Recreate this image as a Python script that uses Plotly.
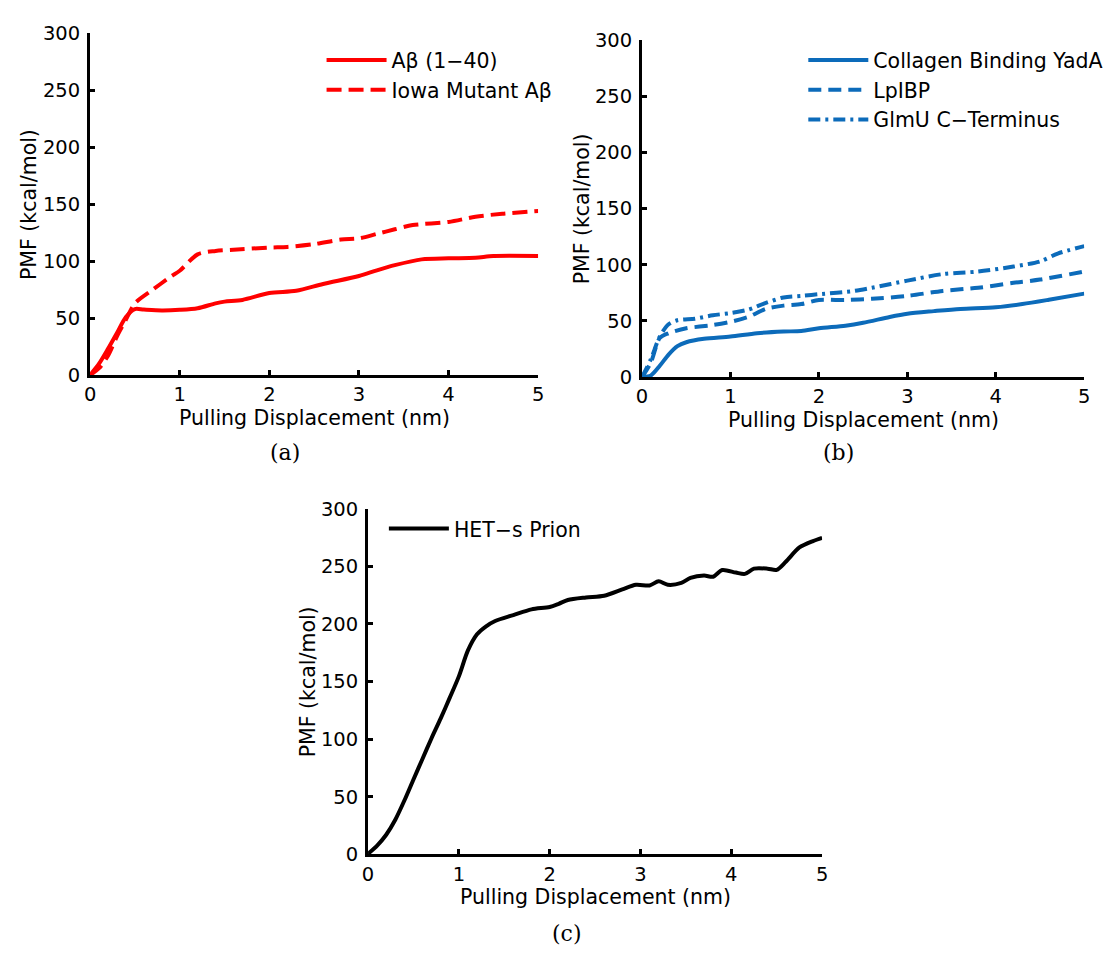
import plotly.graph_objects as go

# ---- Panel (a): amyloid-beta peptides ----
x_ab40 = [0, 0.1, 0.2, 0.3, 0.4, 0.5, 0.6, 0.8, 1.0, 1.2, 1.4, 1.5, 1.7, 2.0, 2.3, 2.6, 3.0, 3.2, 3.4, 3.7, 4.0, 4.3, 4.5, 5.0]
y_ab40 = [0, 10, 23, 37, 51, 58, 57.5, 56.8, 57.3, 58.7, 63, 64.5, 66, 72, 74, 80, 87, 92, 96.5, 101.6, 102.5, 103, 104.5, 104.5]

x_iowa = [0, 0.1, 0.2, 0.3, 0.4, 0.5, 0.7, 0.9, 1.0, 1.2, 1.4, 1.6, 2.0, 2.2, 2.5, 2.8, 3.0, 3.2, 3.4, 3.6, 4.0, 4.3, 4.6, 5.0]
y_iowa = [0, 6, 17, 34, 48.7, 63, 75, 86.5, 91.6, 106, 109, 110, 112, 112.5, 115, 119, 120, 124, 128, 131.7, 134.5, 139, 141.7, 144]

# ---- Panel (b): bacterial proteins ----
x_yada = [0, 0.1, 0.2, 0.3, 0.4, 0.5, 0.7, 1.0, 1.3, 1.6, 1.8, 2.0, 2.3, 2.5, 2.8, 3.0, 3.3, 3.6, 4.0, 4.3, 4.6, 5.0]
y_yada = [0, 1.4, 10, 20, 27.5, 31, 34, 36, 39, 40.5, 41, 43.4, 45.7, 48.3, 53.5, 56.4, 58.7, 60.7, 62.2, 65, 68.8, 74.3]

x_lpibp = [0, 0.1, 0.2, 0.3, 0.5, 0.8, 1.0, 1.2, 1.4, 1.6, 1.8, 2.0, 2.3, 2.6, 3.0, 3.4, 3.8, 4.2, 4.5, 5.0]
y_lpibp = [0, 13, 34.7, 39, 43.4, 46.3, 49.2, 53.5, 60.7, 63.6, 65, 68.6, 68.6, 69.7, 72.3, 76.7, 79.5, 83.9, 86.8, 94]

x_glmu = [0, 0.1, 0.2, 0.3, 0.4, 0.6, 0.8, 1.0, 1.2, 1.4, 1.6, 1.8, 2.0, 2.4, 2.6, 3.0, 3.4, 3.8, 4.2, 4.5, 4.7, 5.0]
y_glmu = [0, 16, 36, 47, 50.6, 52, 55, 57, 60, 66, 70.9, 72.3, 73.8, 76.7, 79.5, 85.9, 91.7, 94, 98.4, 103, 110, 116.6]

# ---- Panel (c): HET-s prion ----
x_hets = [0, 0.1, 0.2, 0.3, 0.4, 0.5, 0.6, 0.7, 0.8, 0.9, 1.0, 1.1, 1.2, 1.3, 1.4, 1.6, 1.8, 2.0, 2.1, 2.2, 2.4, 2.6, 2.8, 2.95,
          3.1, 3.2, 3.3, 3.45, 3.55, 3.7, 3.8, 3.9, 4.05, 4.15, 4.25, 4.4, 4.5, 4.6, 4.75, 4.9, 5.0]
y_hets = [0.5, 7.6, 17, 30, 46.7, 65, 83, 101, 118, 136, 154.5, 177, 191, 198, 202.6, 207.7, 212.7, 214.7, 217.5, 220.8, 223, 224.5, 230, 234,
          233.4, 237, 234, 235.6, 240, 242, 241, 246.8, 244.6, 243.5, 248, 248, 247, 254, 266.4, 272, 274.8]

x_ticks = [0, 1, 2, 3, 4, 5]
y_ticks = [0, 50, 100, 150, 200, 250, 300]
x_title = "Pulling Displacement (nm)"
y_title = "PMF (kcal/mol)"

RED = "#ff0000"
BLUE = "#0c6bba"
LW = 4
FONT = "DejaVu Sans, sans-serif"
SERIF = "DejaVu Serif, serif"

W, H = 1113, 960


def px_x(p):
    return p / W


def px_y(p):
    return 1 - p / H


fig = go.Figure()


def add(x, y, name, color, dash, xa, ya, legend):
    fig.add_trace(go.Scatter(
        x=x, y=y, name=name, mode="lines",
        line=dict(color=color, width=LW, dash=dash, shape="spline", smoothing=0.8),
        xaxis=xa, yaxis=ya, legend=legend, showlegend=True,
    ))


add(x_ab40, y_ab40, "Aβ (1−40)", RED, "solid", "x", "y", "legend")
add(x_iowa, y_iowa, "Iowa Mutant Aβ", RED, "15px,7px", "x", "y", "legend")
add(x_yada, y_yada, "Collagen Binding YadA", BLUE, "solid", "x2", "y2", "legend2")
add(x_lpibp, y_lpibp, "LpIBP", BLUE, "13px,7px", "x2", "y2", "legend2")
add(x_glmu, y_glmu, "GlmU C−Terminus", BLUE, "12px,5px,3px,5px", "x2", "y2", "legend2")
add(x_hets, y_hets, "HET−s Prion", "black", "solid", "x3", "y3", "legend3")


def axis_common(anchor, domain, is_x):
    d = dict(
        domain=domain, anchor=anchor, showgrid=False, zeroline=False,
        showline=True, linecolor="black", linewidth=3, mirror=False,
        ticks="inside", ticklen=5, tickwidth=3, tickcolor="black",
        tickfont=dict(family=FONT, size=19.5, color="black"),
        fixedrange=True,
    )
    if is_x:
        d.update(range=[0, 5], tickvals=x_ticks, ticklabelstandoff=0)
    else:
        d.update(range=[0, 300], tickvals=y_ticks, ticklabelstandoff=3)
    return d


# plot areas in pixels: (left, right, top, bottom)
boxes = {
    "a": (85, 538, 23, 373),
    "b": (643, 1090, 30, 375),
    "c": (366, 825, 510, 864),
}
dom = {k: ([px_x(l), px_x(r)], [px_y(b), px_y(t)]) for k, (l, r, t, b) in boxes.items()}

legend_style = dict(
    bgcolor="rgba(0,0,0,0)", borderwidth=0,
    font=dict(family=FONT, size=20.5, color="black"),
    xanchor="left", yanchor="top", itemwidth=60, tracegroupgap=0,
)

annotations = []
# axis titles
for k, (l, r, t, b) in boxes.items():
    annotations.append(dict(
        text=x_title, x=px_x((l + r) / 2), y=px_y(b + 44), xref="paper", yref="paper",
        showarrow=False, xanchor="center", yanchor="middle",
        font=dict(family=FONT, size=20.5, color="black")))
    annotations.append(dict(
        text=y_title, x=px_x(l - 61), y=px_y((t + b) / 2), xref="paper", yref="paper",
        showarrow=False, xanchor="center", yanchor="middle", textangle=-90,
        font=dict(family=FONT, size=20.5, color="black")))
# panel captions
for t, cx, cy in [("(a)", 282, 452), ("(b)", 842, 452), ("(c)", 567, 945)]:
    annotations.append(dict(
        text=t, x=px_x(cx), y=px_y(cy), xref="paper", yref="paper",
        showarrow=False, xanchor="center", yanchor="middle",
        font=dict(family=SERIF, size=22, color="black")))

fig.update_layout(
    width=W, height=H,
    margin=dict(l=0, r=0, t=0, b=0),
    paper_bgcolor="white", plot_bgcolor="white",
    xaxis=axis_common("y", dom["a"][0], True),
    yaxis=axis_common("x", dom["a"][1], False),
    xaxis2=axis_common("y2", dom["b"][0], True),
    yaxis2=axis_common("x2", dom["b"][1], False),
    xaxis3=axis_common("y3", dom["c"][0], True),
    yaxis3=axis_common("x3", dom["c"][1], False),
    legend=dict(legend_style, x=px_x(319), y=px_y(30)),
    legend2=dict(legend_style, x=px_x(806), y=px_y(30)),
    legend3=dict(legend_style, x=px_x(382), y=px_y(510)),
    annotations=annotations,
)

fig.write_html("out.html")
